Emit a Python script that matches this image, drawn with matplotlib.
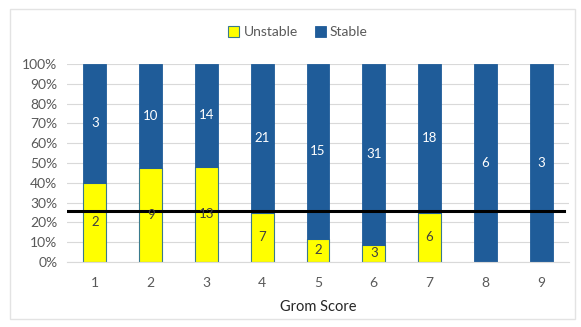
import matplotlib
matplotlib.use("Agg")
import matplotlib.pyplot as plt
from matplotlib.patches import Rectangle
import numpy as np

plt.rcParams['font.family'] = ['Lato', 'DejaVu Sans']

scores = [1, 2, 3, 4, 5, 6, 7, 8, 9]
unstable = [2, 9, 13, 7, 2, 3, 6, 0, 0]
stable = [3, 10, 14, 21, 15, 31, 18, 6, 3]
threshold = 0.26

total = np.array(unstable) + np.array(stable)
u_frac = np.array(unstable) / total
s_frac = np.array(stable) / total

fig = plt.figure(figsize=(5.81, 3.27), dpi=100)
ax = fig.add_axes([67 / 581, 1 - 262 / 327, (569 - 67) / 581, (262 - 64) / 327])

yellow = '#FFFF00'
blue = '#1F5C99'
edge = '#3A7A8C'
w = 0.41

ax.bar(scores, u_frac, width=w, color=yellow, edgecolor=edge, linewidth=0.8,
       label='Unstable', zorder=2)
ax.bar(scores, s_frac, width=w, bottom=u_frac, color=blue, edgecolor=blue,
       linewidth=0.6, label='Stable', zorder=2)

for x, u, s, uf, sf in zip(scores, unstable, stable, u_frac, s_frac):
    if u > 0:
        ax.text(x, uf / 2, str(u), ha='center', va='center', fontsize=9.5,
                color='#404040', zorder=4)
    if s > 0:
        ax.text(x, uf + sf / 2, str(s), ha='center', va='center', fontsize=9.5,
                color='white', zorder=4)

ax.axhline(threshold, xmin=-0.002, xmax=0.99, color='black', linewidth=2.2, zorder=3)

ax.set_xlim(0.5, 9.5)
ax.set_ylim(0, 1)
ax.set_yticks(np.arange(0, 1.01, 0.1))
ax.set_yticklabels([f'{int(round(v * 100))}%' for v in np.arange(0, 1.01, 0.1)])
ax.set_xticks(scores)
ax.set_xticklabels([str(s) for s in scores])
ax.tick_params(axis='both', length=0, labelsize=10, colors='#595959')
ax.tick_params(axis='x', pad=11)
ax.tick_params(axis='y', pad=7)
ax.grid(axis='y', color='#D9D9D9', linewidth=0.8, zorder=0)
for sp in ax.spines.values():
    sp.set_visible(False)
ax.spines['bottom'].set_visible(True)
ax.spines['bottom'].set_color('#D9D9D9')
ax.set_axisbelow(True)

ax.set_xlabel('Grom Score', fontsize=10.5, color='#262626', labelpad=8)

leg = fig.legend(loc='center', bbox_to_anchor=(298 / 581, 1 - 32 / 327), ncol=2,
                 frameon=False, fontsize=10, handlelength=0.8, handleheight=0.8,
                 handletextpad=0.3, columnspacing=1.2, labelcolor='#595959')

fig.patches.append(Rectangle((10 / 581, 8 / 327), 565 / 581, 310 / 327,
                             transform=fig.transFigure, fill=False,
                             edgecolor='#E3E3E3', linewidth=1))

fig.savefig('out.png', dpi=100, facecolor='white')
